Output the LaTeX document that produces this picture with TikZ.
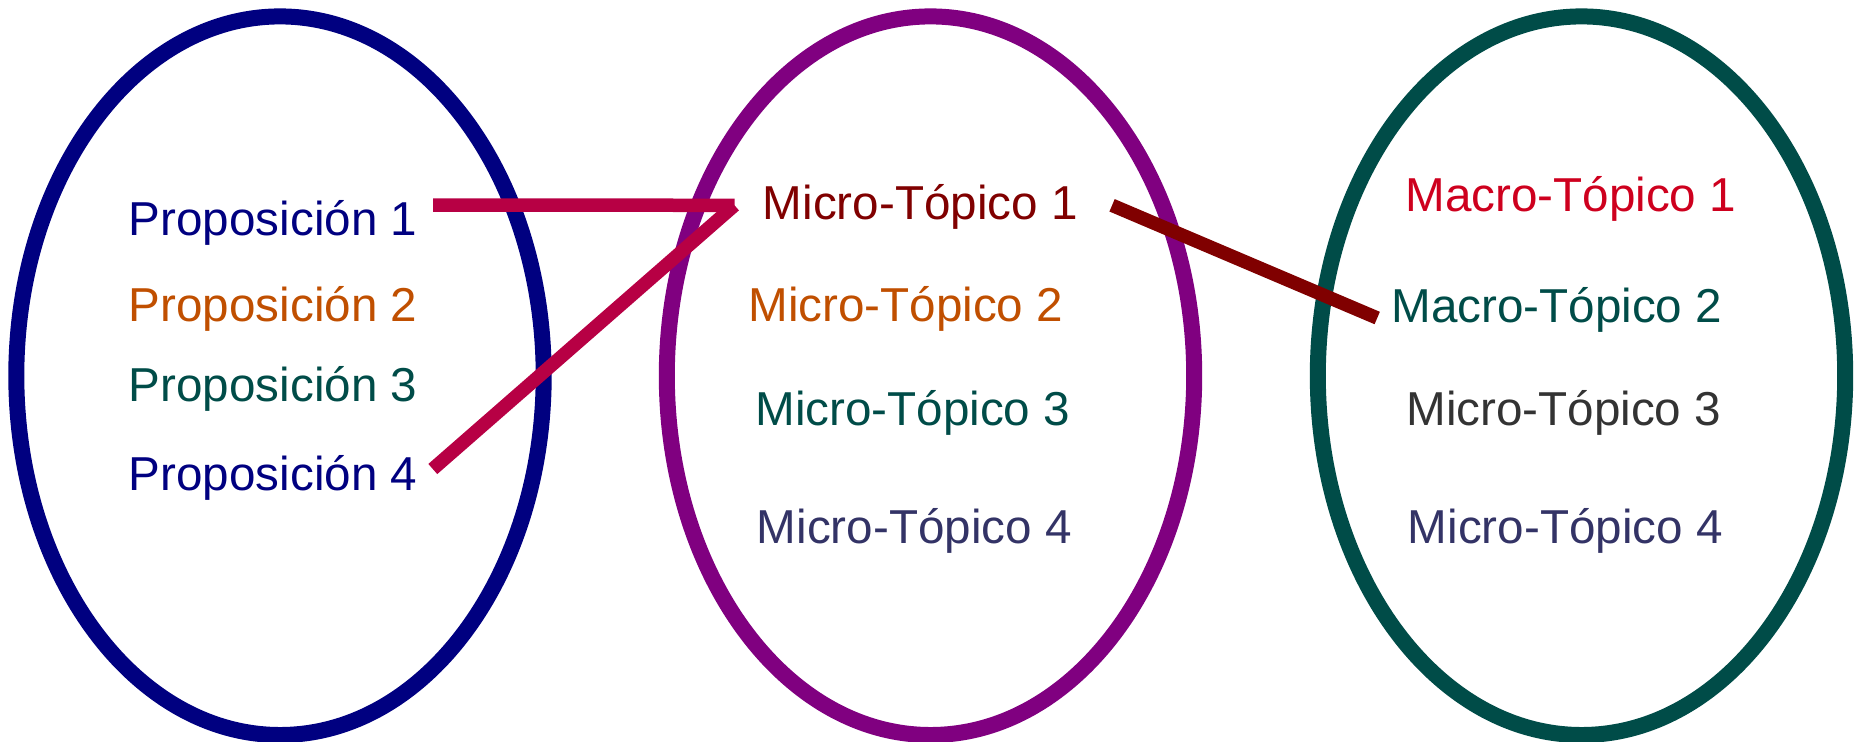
\documentclass[tikz,border=0pt]{standalone}
\usepackage{fontspec}
\setmainfont{Liberation Sans}
\usepackage{tikz}
\definecolor{azul}{RGB}{0,0,128}
\definecolor{morado}{RGB}{128,0,128}
\definecolor{verde}{RGB}{0,76,72}
\definecolor{naranja}{RGB}{192,79,0}
\definecolor{granate}{RGB}{128,0,0}
\definecolor{rojo}{RGB}{206,0,30}
\definecolor{gris}{RGB}{51,51,51}
\definecolor{pizarra}{RGB}{51,51,102}
\definecolor{carmin}{RGB}{183,0,68}

\begin{document}
\begin{tikzpicture}[x=0.5pt,y=-0.5pt,
    txt/.style={anchor=base west,inner sep=0pt,font=\fontsize{23.8}{28}\selectfont},
    ring/.style={line width=8pt},
    link/.style={line width=6.75pt}]
  \useasboundingbox (0,0) rectangle (1856,741);
    % the three sets
    \draw[ring,azul] (280,375.7) ellipse [x radius=263.7,y radius=359.3];
    \draw[ring,morado] (930.5,375.7) ellipse [x radius=263.7,y radius=359.3];
    \draw[ring,verde] (1581.5,375.7) ellipse [x radius=263.7,y radius=359.3];
    % propositions
    \node[txt,text=azul] (p1) at (128.5,235) {Proposición 1};
    \node[txt,text=naranja] (p2) at (128.5,321.7) {Proposición 2};
    \node[txt,text=verde] (p3) at (128.5,401.7) {Proposición 3};
    \node[txt,text=azul] (p4) at (128.5,490) {Proposición 4};
    % micro topics
    \node[txt,text=granate] (m1) at (762.5,219.3) {Micro-Tópico 1};
    \node[txt,text=naranja] (m2) at (748,321.7) {Micro-Tópico 2};
    \node[txt,text=verde] (m3) at (755,425.7) {Micro-Tópico 3};
    \node[txt,text=pizarra] (m4) at (756.5,543) {Micro-Tópico 4};
    % macro topics
    \node[txt,text=rojo] (M1) at (1405,211.7) {Macro-Tópico 1};
    \node[txt,text=verde] (M2) at (1391,322.3) {Macro-Tópico 2};
    \node[txt,text=gris] (M3) at (1406,425) {Micro-Tópico 3};
    \node[txt,text=pizarra] (M4) at (1407.5,543) {Micro-Tópico 4};
    % links
    \draw[link,carmin] ([xshift=7.65pt,yshift=15pt]p1.base east) -- ([xshift=-14pt,yshift=7pt]m1.base west);
    \draw[link,carmin] ([xshift=7.55pt,yshift=10.5pt]p4.base east) -- ([xshift=-14pt,yshift=7pt]m1.base west);
    \draw[link,granate] ([xshift=17pt,yshift=7pt]m1.base east) -- ([xshift=-6.9pt,yshift=2.15pt]M2.base west);
  \end{tikzpicture}
\end{document}
